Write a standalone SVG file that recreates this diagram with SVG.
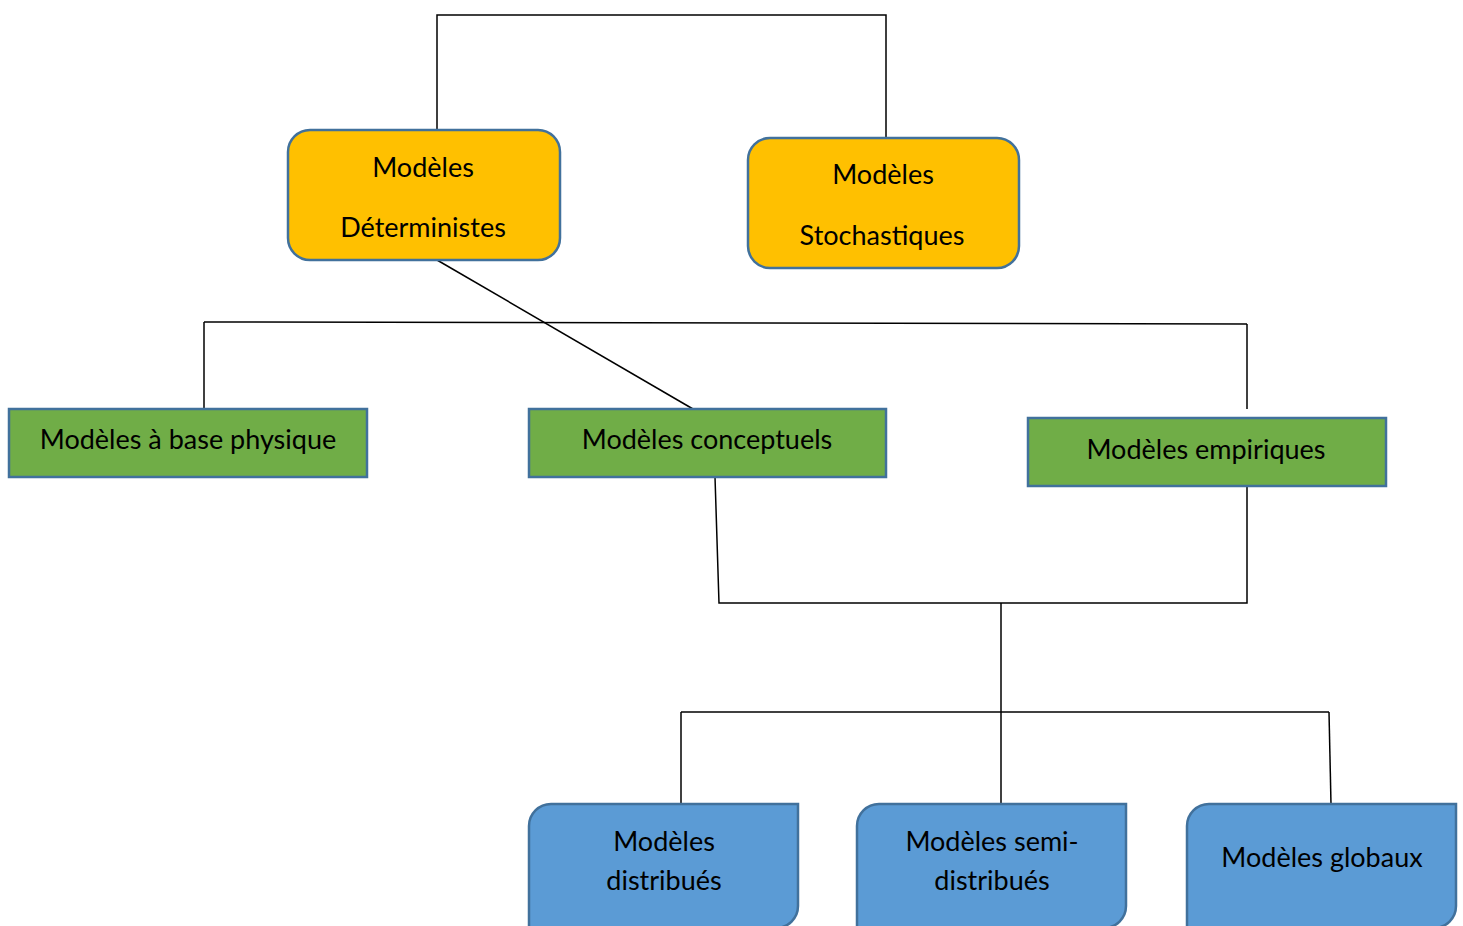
<svg xmlns="http://www.w3.org/2000/svg" width="1463" height="926" viewBox="0 0 1463 926">
<style>
.c{stroke:#000;stroke-width:1.5;fill:none}
.o{fill:#FFC000;stroke:#41719C;stroke-width:2.5}
.g{fill:#70AD47;stroke:#41719C;stroke-width:2.5}
.b{fill:#5B9BD5;stroke:#41719C;stroke-width:2.5}
text{font-family:Lato,"Open Sans",sans-serif;font-size:27px;fill:#000;text-anchor:middle;dominant-baseline:central}
</style>
<rect width="1463" height="926" fill="#fff"/>
<g id="connectors">
<polyline class="c" points="437,130 437,15 886,15 886,138"/>
<line class="c" x1="437" y1="260" x2="693" y2="409"/>
<line class="c" x1="204" y1="322" x2="1247" y2="324"/>
<line class="c" x1="204" y1="322" x2="204" y2="409"/>
<line class="c" x1="1247" y1="324" x2="1247" y2="409"/>
<polyline class="c" points="715,477 719,603 1247,603 1247,486"/>
<line class="c" x1="1001" y1="603" x2="1001" y2="804"/>
<line class="c" x1="681" y1="712" x2="1329" y2="712"/>
<line class="c" x1="681" y1="712" x2="681" y2="804"/>
<line class="c" x1="1329" y1="712" x2="1331" y2="804"/>
</g>
<g id="n-deterministes">
<rect class="o" x="288" y="130" width="272" height="130" rx="22"/>
<text x="423" y="166">Modèles</text>
<text x="423" y="226">Déterministes</text>
</g>
<g id="n-stochastiques">
<rect class="o" x="748" y="138" width="271" height="130" rx="22"/>
<text x="883" y="173">Modèles</text>
<text x="882" y="234">Stochastiques</text>
</g>
<g id="n-physique">
<rect class="g" x="9" y="409" width="358" height="68"/>
<text x="188" y="438">Modèles à base physique</text>
</g>
<g id="n-conceptuels">
<rect class="g" x="529" y="409" width="357" height="68"/>
<text x="707" y="438">Modèles conceptuels</text>
</g>
<g id="n-empiriques">
<rect class="g" x="1028" y="418" width="358" height="68"/>
<text x="1206" y="448">Modèles empiriques</text>
</g>
<g id="n-distribues">
<path class="b" d="M551,804 H798 V906 A22,22 0 0 1 776,928 H529 V826 A22,22 0 0 1 551,804 Z"/>
<text x="664" y="840">Modèles</text>
<text x="664" y="879">distribués</text>
</g>
<g id="n-semi">
<path class="b" d="M879,804 H1126 V906 A22,22 0 0 1 1104,928 H857 V826 A22,22 0 0 1 879,804 Z"/>
<text x="992" y="840">Modèles semi-</text>
<text x="992" y="879">distribués</text>
</g>
<g id="n-globaux">
<path class="b" d="M1209,804 H1456 V906 A22,22 0 0 1 1434,928 H1187 V826 A22,22 0 0 1 1209,804 Z"/>
<text x="1322" y="856">Modèles globaux</text>
</g>
</svg>
